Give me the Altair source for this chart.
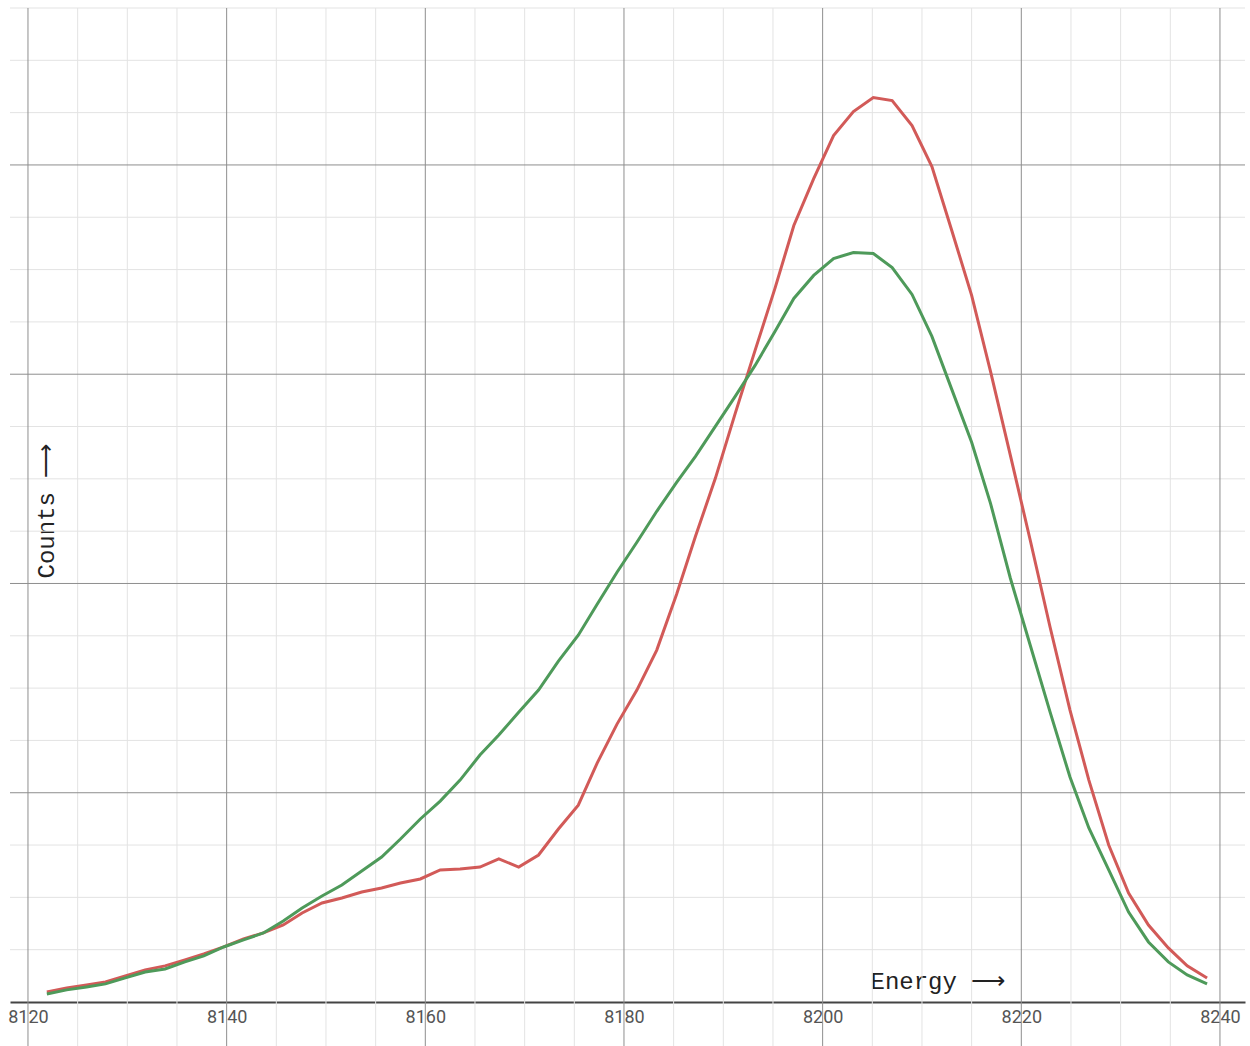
import altair as alt
import pandas as pd

# ---- data ----
energy = [8121.9, 8123.9, 8125.9, 8127.8, 8129.8, 8131.8, 8133.8, 8135.8, 8137.7, 8139.7,
          8141.7, 8143.7, 8145.7, 8147.6, 8149.6, 8151.6, 8153.6, 8155.6, 8157.5, 8159.5,
          8161.5, 8163.5, 8165.5, 8167.4, 8169.4, 8171.4, 8173.4, 8175.4, 8177.3, 8179.3,
          8181.3, 8183.3, 8185.3, 8187.2, 8189.2, 8191.2, 8193.2, 8195.2, 8197.1, 8199.1,
          8201.1, 8203.1, 8205.1, 8207.0, 8209.0, 8211.0, 8213.0, 8215.0, 8216.9, 8218.9,
          8220.9, 8222.9, 8224.9, 8226.8, 8228.8, 8230.8, 8232.8, 8234.8, 8236.7, 8238.7]

red_counts = [9.6, 13.5, 16.3, 19.2, 24.9, 30.7, 34.5, 40.2, 45.9, 52.6,
              60.3, 66.0, 73.6, 85.1, 94.6, 99.4, 105.1, 109.0, 113.7, 117.6,
              126.2, 127.1, 129.0, 136.7, 129.0, 140.5, 165.3, 188.2, 228.3, 265.6,
              298.1, 336.3, 389.7, 445.1, 500.5, 562.6, 622.8, 682.0, 742.1, 787.0,
              828.1, 851.0, 864.4, 861.5, 837.6, 798.5, 737.4, 675.3, 602.7, 522.5,
              441.3, 358.2, 279.0, 212.1, 150.0, 104.2, 73.6, 51.7, 34.5, 23.0]

green_counts = [7.7, 11.6, 14.4, 17.3, 23.0, 28.7, 31.6, 38.3, 44.0, 52.6,
                59.3, 66.0, 77.4, 89.9, 101.3, 111.8, 125.2, 138.6, 155.8, 174.9,
                192.0, 212.1, 236.0, 255.1, 277.0, 298.1, 325.7, 350.6, 380.2, 410.7,
                439.4, 469.0, 496.7, 521.5, 550.2, 578.8, 608.4, 640.9, 672.4, 694.4,
                710.6, 716.3, 715.4, 702.0, 676.2, 636.1, 585.5, 534.9, 476.6, 405.0,
                341.0, 277.0, 215.0, 166.3, 126.2, 86.0, 57.4, 38.3, 25.9, 17.3]

x_major = [8120, 8140, 8160, 8180, 8200, 8220, 8240]
x_minor = [8125, 8130, 8135, 8145, 8150, 8155, 8165, 8170, 8175, 8185, 8190, 8195,
           8205, 8210, 8215, 8225, 8230, 8235]
y_major = [200, 400, 600, 800]
y_minor = [50, 100, 150, 250, 300, 350, 450, 500, 550, 650, 700, 750, 850, 900, 950]

W, H = 1235, 994
xscale = alt.Scale(domain=[8118.19, 8242.52], nice=False, zero=False)
yscale = alt.Scale(domain=[0, 950], nice=False, zero=True)

TITLE_FONT = "Liberation Mono"

xaxis = alt.Axis(values=x_major, format="d", grid=False, ticks=False,
                 domain=True, domainColor="#444444", domainWidth=2,
                 labelFont="Roboto", labelFontSize=18, labelColor="#555555",
                 labelPadding=6, labelFlush=False, labelOverlap=False,
                 title="Energy \u27f6", titleFont=TITLE_FONT,
                 titleFontSize=24, titleFontWeight="normal", titleColor="#222222",
                 titleAlign="left", titleBaseline="alphabetic",
                 titleX=860, titleY=-14)
yaxis = alt.Axis(grid=False, ticks=False, labels=False, domain=False,
                 title="Counts \u27f6", titleFont=TITLE_FONT,
                 titleFontSize=24, titleFontWeight="normal", titleColor="#222222",
                 titleAngle=270, titleAlign="left", titleBaseline="alphabetic",
                 titleX=43, titleY=570)

df = pd.DataFrame({
    "energy": energy * 2,
    "counts": red_counts + green_counts,
    "series": ["red"] * len(energy) + ["green"] * len(energy),
})

vminor = alt.Chart(pd.DataFrame({"energy": x_minor})).mark_rule(color="#e3e3e3", strokeWidth=1).encode(
    x=alt.X("energy:Q", scale=xscale, axis=xaxis), y=alt.value(0), y2=alt.value(1038))
hminor = alt.Chart(pd.DataFrame({"counts": y_minor})).mark_rule(color="#e3e3e3", strokeWidth=1).encode(
    y=alt.Y("counts:Q", scale=yscale, axis=yaxis), x=alt.value(0), x2=alt.value(W))
vmajor = alt.Chart(pd.DataFrame({"energy": x_major})).mark_rule(color="#8e8e8e", strokeWidth=1).encode(
    x=alt.X("energy:Q", scale=xscale, axis=xaxis), y=alt.value(0), y2=alt.value(1038))
hmajor = alt.Chart(pd.DataFrame({"counts": y_major})).mark_rule(color="#8e8e8e", strokeWidth=1).encode(
    y=alt.Y("counts:Q", scale=yscale, axis=yaxis), x=alt.value(0), x2=alt.value(W))

lines = alt.Chart(df).mark_line(strokeWidth=3).encode(
    x=alt.X("energy:Q", scale=xscale, axis=xaxis),
    y=alt.Y("counts:Q", scale=yscale, axis=yaxis),
    color=alt.Color("series:N", scale=alt.Scale(domain=["red", "green"],
                                                range=["#d25a58", "#4e9a5a"]), legend=None),
    detail="series:N",
)

chart = alt.layer(vminor, hminor, vmajor, hmajor, lines).properties(
    width=W, height=H,
    autosize=alt.AutoSizeParams(type="none"),
    padding={"left": 10, "top": 8, "right": 5, "bottom": 44},
).configure_view(stroke=None)

chart.save("out.html", embed_options={"renderer": "svg", "actions": False})
